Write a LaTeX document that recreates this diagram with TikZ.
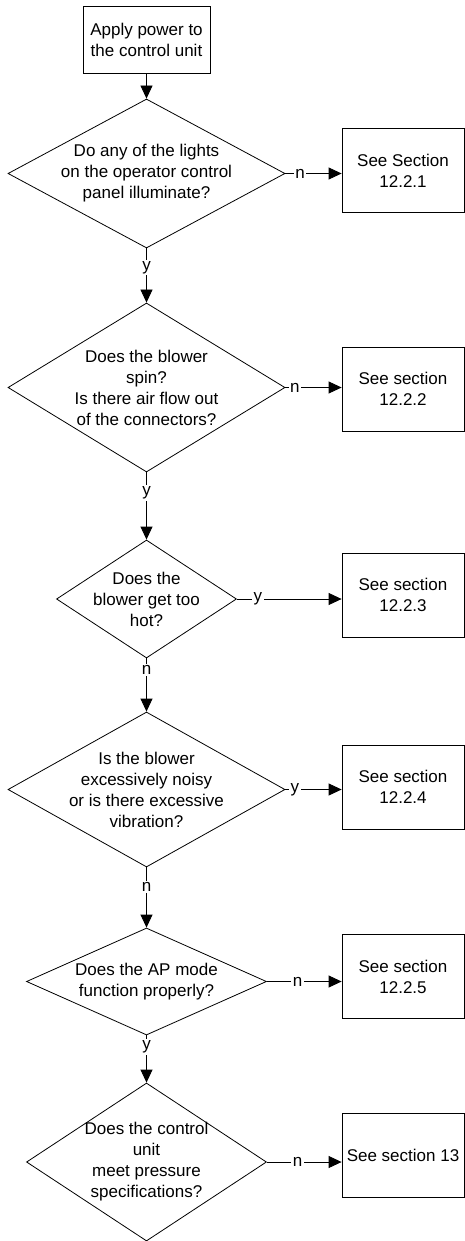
\documentclass[tikz,border=0pt]{standalone}
\usepackage{fontspec}
\setmainfont{Liberation Sans}
\usetikzlibrary{shapes.geometric,arrows.meta}

\begin{document}
\begin{tikzpicture}[x=1pt,y=-1pt,line width=0.8pt,
  every node/.style={font=\fontsize{17}{21}\selectfont},
  box/.style={draw,rectangle,align=center,inner sep=0pt,minimum width=122pt,minimum height=84pt},
  ask/.style={draw,diamond,inner sep=0pt},
  asktext/.style={align=center,inner sep=0pt},
  ans/.style={fill=white,inner sep=1.5pt},
  arr/.style={-{Triangle[length=13pt,width=12pt]}}]

\useasboundingbox (0,0) rectangle (465,1241);

% start
\node [box,minimum width=127pt,minimum height=67pt] (power) at (146.5,39.5) {Apply power to\\the control unit};

% questions
\node [ask,minimum width=277pt,minimum height=149pt] (lights) at (146.5,173.5) {};
\node [asktext] (lightsq) at (lights) {Do any of the lights\\on the operator control\\panel illuminate?};

\node [ask,minimum width=277pt,minimum height=169pt] (spin) at (146.5,387.5) {};
\node [asktext] (spinq) at (spin) {Does the blower\\spin?\\Is there air flow out\\of the connectors?};

\node [ask,minimum width=180pt,minimum height=118pt] (hot) at (146.5,599) {};
\node [asktext] (hotq) at (hot) {Does the\\blower get too\\hot?};

\node [ask,minimum width=277pt,minimum height=155pt] (noisy) at (146.5,789.5) {};
\node [asktext] (noisyq) at (noisy) {Is the blower\\excessively noisy\\or is there excessive\\vibration?};

\node [ask,minimum width=240pt,minimum height=107pt] (apmode) at (146.5,981.5) {};
\node [asktext] (apmodeq) at (apmode) {Does the AP mode\\function properly?};

\node [ask,minimum width=240pt,minimum height=158pt] (pressure) at (146.5,1162) {};
\node [asktext] (pressureq) at (pressure) {Does the control\\unit\\meet pressure\\specifications?};

% sections
\node [box] (see1) at (403,170.5) {See Section\\12.2.1};
\node [box] (see2) at (403,389) {See section\\12.2.2};
\node [box] (see3) at (403,595) {See section\\12.2.3};
\node [box] (see4) at (403,787) {See section\\12.2.4};
\node [box] (see5) at (403,976.5) {See section\\12.2.5};
\node [box] (see6) at (403,1155) {See section 13};

% main line
\draw [arr] (power) -- (lights);
\draw [arr] (lights) -- node [ans,pos=0.35] {y} (spin);
\draw [arr] (spin) -- node [ans,pos=0.31] {y} (hot);
\draw [arr] (hot) -- node [ans,pos=0.22] {n} (noisy);
\draw [arr] (noisy) -- node [ans,pos=0.33] {n} (apmode);
\draw [arr] (apmode) -- node [ans,pos=0.25] {y} (pressure);

% branches
\draw [arr] (lights.east) -- node [ans,pos=0.26] {n} (lights.east -| see1.west);
\draw [arr] (spin.east) -- node [ans,pos=0.17] {n} (spin.east -| see2.west);
\draw [arr] (hot.east) -- node [ans,pos=0.2] {y} (hot.east -| see3.west);
\draw [arr] (noisy.east) -- node [ans,pos=0.17] {y} (noisy.east -| see4.west);
\draw [arr] (apmode.east) -- node [ans,pos=0.41] {n} (apmode.east -| see5.west);
\draw [arr] (pressure.east) -- node [ans,pos=0.41] {n} (pressure.east -| see6.west);

\end{tikzpicture}
\end{document}
